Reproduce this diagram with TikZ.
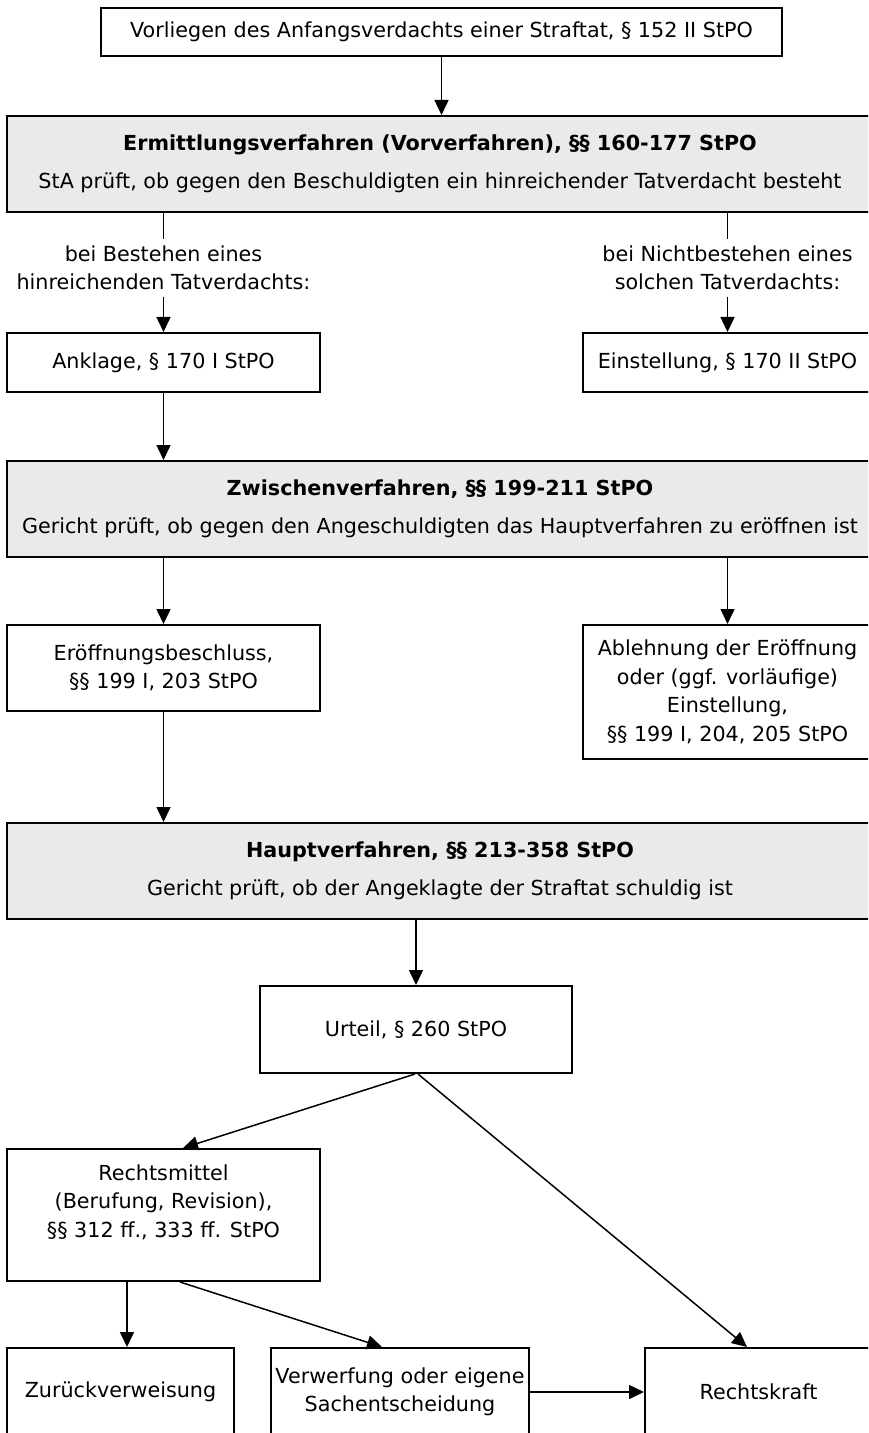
\documentclass[tikz,border=0pt]{standalone}
\usepackage{fontspec}
\setmainfont{DejaVu Sans}
\usetikzlibrary{arrows.meta}
\definecolor{phasegray}{HTML}{EAEAEA}
\tikzstyle{stepbox} = [rectangle, draw=black, line width=1pt, fill=white,
inner sep=0pt, align=center, font=\fontsize{10.35pt}{14.25pt}\selectfont]
\tikzstyle{phase} = [stepbox, fill=phasegray, minimum width=433pt, minimum height=48pt]
\tikzstyle{cond} = [rectangle, inner sep=3pt, align=center,
font=\fontsize{10.35pt}{14.25pt}\selectfont]
\tikzstyle{flow} = [->, line width=0.75pt]
\tikzset{>={Triangle[length=7.5pt,width=7pt]}}
\newcommand{\arrowdown}[3][]{ %
  % Vertical arrow from the bottom of #2 to the top of #3.
  \draw[flow,#1] (#2.south) -- (#2.south |- #3.north) ;%
}

\begin{document}
\begin{tikzpicture}[x=0.5pt, y=-0.5pt]
  \useasboundingbox (0,0) rectangle (868,1433);
  \fill[white] (0,0) rectangle (868,1433);
  \clip (0,0) rectangle (868,1433);

  \node[stepbox, minimum width=340.5pt, minimum height=24pt] (verdacht) at (441.5,32)
    {Vorliegen des Anfangsverdachts einer Straftat, § 152 II StPO};
  \node[phase] (ermittlung) at (440,164)
    {\textbf{Ermittlungsverfahren (Vorverfahren), §§ 160-177 StPO}\\[4.75pt]
     StA prüft, ob gegen den Beschuldigten ein hinreichender Tatverdacht besteht};
  \node[cond] (ja) at (163.5,268) {bei Bestehen eines\\hinreichenden Tatverdachts:};
  \node[cond] (nein) at (727.5,268) {bei Nichtbestehen eines\\solchen Tatverdachts:};
  \node[stepbox, minimum width=156.5pt, minimum height=29.5pt] (anklage) at (163.5,362.5)
    {Anklage, § 170 I StPO};
  \node[stepbox, minimum width=144.5pt, minimum height=29.5pt] (einst) at (727.5,362.5)
    {Einstellung, § 170 II StPO};

  \node[phase] (zwischen) at (440,509)
    {\textbf{Zwischenverfahren, §§ 199-211 StPO}\\[4.75pt]
     Gericht prüft, ob gegen den Angeschuldigten das Hauptverfahren zu eröffnen ist};
  \node[stepbox, minimum width=156.5pt, minimum height=43pt] (eroeff) at (163.5,668)
    {Eröffnungsbeschluss,\\§§ 199 I, 203 StPO};
  \node[stepbox, minimum width=144.5pt, minimum height=67pt] (ablehn) at (727.5,692)
    {Ablehnung der Eröffnung\\oder (ggf. vorläufige)\\Einstellung,\\§§ 199 I, 204, 205 StPO};

  \node[phase] (haupt) at (440,871)
    {\textbf{Hauptverfahren, §§ 213-358 StPO}\\[4.75pt]
     Gericht prüft, ob der Angeklagte der Straftat schuldig ist};
  \node[stepbox, minimum width=156pt, minimum height=43.5pt] (urteil) at (416,1029.5)
    {Urteil, § 260 StPO};
  \node[stepbox, minimum width=156.5pt, minimum height=66pt] (rmittel) at (163.5,1215)
    {Rechtsmittel\\(Berufung, Revision),\\§§ 312 ff., 333 ff. StPO\\\mbox{}};
  \node[stepbox, minimum width=113.5pt, minimum height=44pt] (zurueck) at (120.5,1392)
    {Zurückverweisung};
  \node[stepbox, minimum width=129pt, minimum height=44pt] (verwerf) at (400,1392)
    {Verwerfung oder eigene\\Sachentscheidung};
  \node[stepbox, minimum width=113.5pt, minimum height=44pt] (rkraft) at (758.5,1392)
    {Rechtskraft};

  \arrowdown{verdacht}{ermittlung}
  \draw[flow,-] (ja.north |- ermittlung.south) -- (ja.north);
  \draw[flow,-] (nein.north |- ermittlung.south) -- (nein.north);
  \arrowdown{ja}{anklage}
  \arrowdown{nein}{einst}
  \arrowdown{anklage}{zwischen}
  \draw[flow] (zwischen.south -| eroeff) -- (eroeff.north);
  \draw[flow] (zwischen.south -| ablehn) -- (ablehn.north);
  \arrowdown{eroeff}{haupt}
  \draw[flow] (haupt.south -| urteil) -- (urteil.north);
  \draw[flow] ([xshift=-0.5pt]urteil.south) -- ([xshift=9.75pt]rmittel.north);
  \draw[flow] ([xshift=1pt]urteil.south) -- ([xshift=-5.75pt]rkraft.north);
  \draw[flow] ([xshift=3.25pt]zurueck.north |- rmittel.south) -- ([xshift=3.25pt]zurueck.north);
  \draw[flow] ([xshift=8.25pt]rmittel.south) -- ([xshift=-9pt]verwerf.north);
  \draw[flow] (verwerf.east) -- (rkraft.west);
\end{tikzpicture}
\end{document}
